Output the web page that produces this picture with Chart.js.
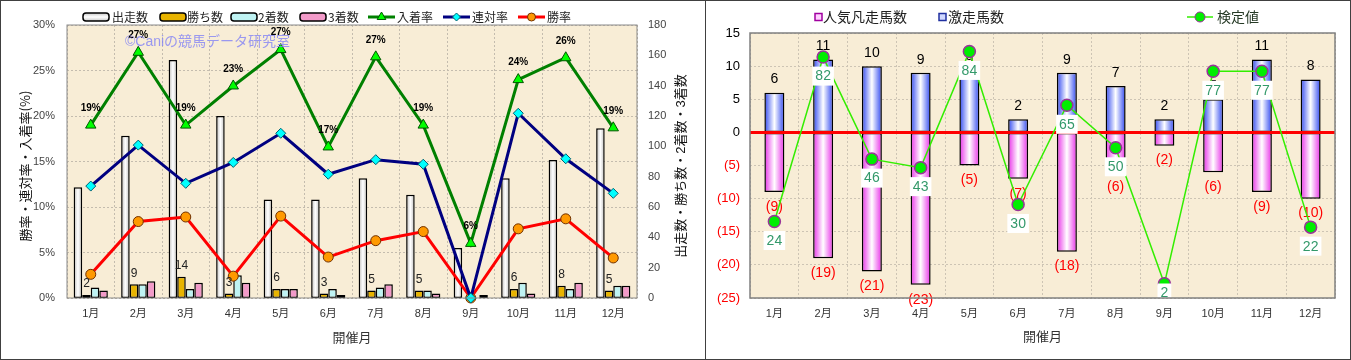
<!DOCTYPE html>
<html>
<head>
<meta charset="utf-8">
<script src="https://cdn.jsdelivr.net/npm/chart.js@4.4.1/dist/chart.umd.min.js"></script>
<style>
body { margin: 0; background: #fff; width: 1351px; height: 360px; overflow: hidden; position: relative; }
.panel { position: absolute; top: 0; height: 358px; border: 1px solid #404040; background: #fff; }
#p1 { left: 0; width: 704px; }
#p2 { left: 705px; width: 644px; }
canvas { display: block; }
</style>
</head>
<body>
<div class="panel" id="p1"><canvas id="c1" width="704" height="358"></canvas></div>
<div class="panel" id="p2"><canvas id="c2" width="644" height="358"></canvas></div>
<script>
// 共通データ
const months = ['1月', '2月', '3月', '4月', '5月', '6月', '7月', '8月', '9月', '10月', '11月', '12月'];

// 左：成績グラフ
const runs    = [73, 107, 157, 120, 65, 65, 79, 68, 33, 79, 91, 112];
const wins    = [2, 9, 14, 3, 6, 3, 5, 5, 0, 6, 8, 5];
const seconds = [7, 9, 6, 15, 6, 6, 7, 5, 0, 10, 6, 8];
const thirds  = [5, 11, 10, 10, 6, 2, 9, 3, 2, 3, 10, 8];
const placeRate  = [19.0, 27.0, 19.0, 23.3, 27.3, 16.6, 26.5, 19.0, 6.0, 24.0, 26.4, 18.7];
const rentaiRate = [12.3, 16.8, 12.6, 14.9, 18.1, 13.6, 15.2, 14.7, 0, 20.3, 15.3, 11.5];
const winRate    = [2.6, 8.4, 8.9, 2.4, 9.0, 4.5, 6.3, 7.3, 0, 7.6, 8.7, 4.4];

// 右：激走・凡走グラフ
const gekisou = [6, 11, 10, 9, 9, 2, 9, 7, 2, 5, 11, 8];
const bonsou  = [-9, -19, -21, -23, -5, -7, -18, -6, -2, -6, -9, -10];
const kentei  = [24, 82, 46, 43, 84, 30, 65, 50, 2, 77, 77, 22];

const SANS = "'Liberation Sans', 'Noto Sans CJK JP', sans-serif";
const JP = "'Noto Sans CJK JP', sans-serif";
Chart.defaults.font.family = SANS;

// 棒の横グラデーション（中央が白）
function barGrad(edge, mid, catPct, nBars, slot) {
    return (c) => {
        const ch = c.chart, xs = ch.scales && ch.scales.x;
        if (!xs || c.dataIndex === undefined || !ch.chartArea) return edge;
        const catW = xs.width / months.length;
        const bw = catW * catPct / nBars;
        const cx = xs.getPixelForValue(c.dataIndex) + (slot - (nBars - 1) / 2) * bw;
        if (!isFinite(cx) || !isFinite(bw) || bw <= 0) return edge;
        const g = ch.ctx.createLinearGradient(cx - bw / 2, 0, cx + bw / 2, 0);
        g.addColorStop(0, edge);
        g.addColorStop(0.5, mid);
        g.addColorStop(1, edge);
        return g;
    };
}

function fillArea(chart, color) {
    const { ctx, chartArea: a } = chart;
    ctx.save();
    ctx.fillStyle = color;
    ctx.fillRect(a.left, a.top, a.right - a.left, a.bottom - a.top);
    ctx.restore();
}

function frame(chart, color, w) {
    const { ctx, chartArea: a } = chart;
    ctx.save();
    ctx.strokeStyle = color;
    ctx.lineWidth = w;
    ctx.strokeRect(a.left, a.top, a.right - a.left, a.bottom - a.top);
    ctx.restore();
}

function vText(ctx, text, x, y, font, color) {
    ctx.save();
    ctx.translate(x, y);
    ctx.rotate(-Math.PI / 2);
    ctx.font = font;
    ctx.fillStyle = color;
    ctx.textAlign = 'center';
    ctx.textBaseline = 'middle';
    ctx.fillText(text, 0, 0);
    ctx.restore();
}

function legendBar(ctx, x, y, w, fill) {
    ctx.beginPath();
    ctx.roundRect(x, y - 4, w, 8, 3);
    if (fill === 'grad') {
        const g = ctx.createLinearGradient(0, y - 4, 0, y + 4);
        g.addColorStop(0, '#c8c8c8'); g.addColorStop(0.5, '#ffffff'); g.addColorStop(1, '#c8c8c8');
        ctx.fillStyle = g;
    } else {
        ctx.fillStyle = fill;
    }
    ctx.fill();
    ctx.lineWidth = 1.5;
    ctx.strokeStyle = '#000';
    ctx.stroke();
}

function legendLine(ctx, x, y, w, ds) {
    ctx.beginPath();
    ctx.moveTo(x, y); ctx.lineTo(x + w, y);
    ctx.lineWidth = ds.borderWidth;
    ctx.strokeStyle = ds.borderColor;
    ctx.stroke();
    ctx.fillStyle = ds.pointBackgroundColor;
    ctx.strokeStyle = ds.pointBorderColor;
    ctx.lineWidth = 1;
    Chart.helpers.drawPoint(ctx, { pointStyle: ds.pointStyle || 'circle', radius: ds.pointRadius - 1, rotation: 0, borderWidth: 1 }, x + w / 2, y);
}

function legendText(ctx, text, x, y, font, color) {
    ctx.font = font;
    ctx.fillStyle = color;
    ctx.textAlign = 'left';
    ctx.textBaseline = 'middle';
    ctx.fillText(text, x, y);
}

// ---------- 左グラフ ----------
const leftDeco = {
    id: 'leftDeco',
    beforeDraw(chart) { fillArea(chart, '#f8edd6'); },
    afterDatasetsDraw(chart) {
        const ctx = chart.ctx;
        ctx.save();
        ctx.textAlign = 'center';
        ctx.textBaseline = 'middle';
        // 勝ち数ラベル
        ctx.font = '12px ' + SANS;
        ctx.fillStyle = '#222';
        chart.getDatasetMeta(4).data.forEach((el, i) => {
            if (wins[i] > 0) ctx.fillText(String(wins[i]), el.x, el.y - 11);
        });
        // 入着率ラベル
        ctx.font = 'bold 10px ' + SANS;
        ctx.fillStyle = '#000';
        chart.getDatasetMeta(0).data.forEach((el, i) => {
            ctx.fillText(Math.round(placeRate[i]) + '%', el.x, el.y - 17);
        });
        ctx.restore();
    },
    afterDraw(chart) {
        const ctx = chart.ctx;
        const ds = chart.data.datasets;
        ctx.save();
        // 凡例
        const lf = '12px ' + JP, lc = '#222', ly = 16;
        legendBar(ctx, 82, ly, 26, 'grad');      legendText(ctx, '出走数', 111, ly, lf, lc);
        legendBar(ctx, 159, ly, 26, '#e8b400');  legendText(ctx, '勝ち数', 186, ly, lf, lc);
        legendBar(ctx, 230, ly, 26, '#bff3f3');  legendText(ctx, '2着数', 257, ly, lf, lc);
        legendBar(ctx, 299, ly, 26, '#f29ac9');  legendText(ctx, '3着数', 327, ly, lf, lc);
        legendLine(ctx, 367, ly, 27, ds[0]);     legendText(ctx, '入着率', 396, ly, lf, lc);
        legendLine(ctx, 442, ly, 27, ds[1]);     legendText(ctx, '連対率', 471, ly, lf, lc);
        legendLine(ctx, 517, ly, 27, ds[2]);     legendText(ctx, '勝率', 546, ly, lf, lc);
        // 透かし
        legendText(ctx, '©Caniの競馬データ研究室', 124, 41, '14px ' + SANS, 'rgba(130,130,245,0.8)');
        // 軸タイトル
        vText(ctx, '勝率・連対率・入着率(%)', 24, 165, '13px ' + JP, '#111');
        vText(ctx, '出走数・勝ち数・2着数・3着数', 680, 165, '13px ' + SANS, '#111');
        ctx.restore();
        frame(chart, '#8a8a8a', 1);
    }
};

new Chart(document.getElementById('c1'), {
    type: 'bar',
    data: {
        labels: months,
        datasets: [
            { type: 'line', label: '入着率', data: placeRate, yAxisID: 'y', order: 0, clip: false,
              borderColor: '#008000', borderWidth: 3, tension: 0,
              pointStyle: 'triangle', pointRadius: 6, pointBackgroundColor: '#00ff00', pointBorderColor: '#005500', pointBorderWidth: 1 },
            { type: 'line', label: '連対率', data: rentaiRate, yAxisID: 'y', order: 0, clip: false,
              borderColor: '#000080', borderWidth: 3, tension: 0,
              pointStyle: 'rectRot', pointRadius: 5, pointBackgroundColor: '#00ffff', pointBorderColor: '#006070', pointBorderWidth: 1 },
            { type: 'line', label: '勝率', data: winRate, yAxisID: 'y', order: 0, clip: false,
              borderColor: '#ff0000', borderWidth: 3, tension: 0,
              pointStyle: 'circle', pointRadius: 5, pointBackgroundColor: '#ff9900', pointBorderColor: '#703000', pointBorderWidth: 1 },
            { label: '出走数', data: runs, yAxisID: 'y1', order: 1,
              backgroundColor: barGrad('#bcbcbc', '#ffffff', 0.72, 4, 0), borderColor: '#000', borderWidth: 1.5, borderSkipped: false },
            { label: '勝ち数', data: wins, yAxisID: 'y1', order: 1,
              backgroundColor: '#e8b400', borderColor: '#000', borderWidth: 1.5, borderSkipped: false },
            { label: '2着数', data: seconds, yAxisID: 'y1', order: 1,
              backgroundColor: '#bff3f3', borderColor: '#000', borderWidth: 1.5, borderSkipped: false },
            { label: '3着数', data: thirds, yAxisID: 'y1', order: 1,
              backgroundColor: '#f29ac9', borderColor: '#000', borderWidth: 1.5, borderSkipped: false }
        ]
    },
    options: {
        responsive: false,
        animation: false,
        devicePixelRatio: 1,
        layout: { padding: { top: 24, left: 0, right: 0, bottom: 0 } },
        datasets: { bar: { barPercentage: 1, categoryPercentage: 0.72 } },
        plugins: { legend: { display: false }, tooltip: { enabled: false } },
        scales: {
            x: {
                afterFit: (s) => { s.height = 61; },
                grid: { color: '#c4bcae', drawTicks: false },
                border: { display: false, dash: [2, 2] },
                ticks: { font: { size: 11 }, color: '#333', padding: 9 },
                title: { display: true, text: '開催月', font: { size: 13, family: JP }, color: '#333', padding: { top: 0, bottom: 14 } }
            },
            y: {
                position: 'left',
                min: 0, max: 30,
                afterFit: (s) => { s.width = 66; },
                grid: { color: '#c4bcae', drawTicks: false },
                border: { display: false, dash: [2, 2] },
                ticks: { stepSize: 5, font: { size: 11 }, color: '#444', padding: 12, callback: (v) => v + '%' }
            },
            y1: {
                position: 'right',
                min: 0, max: 180,
                afterFit: (s) => { s.width = 68; },
                grid: { display: false, drawTicks: false },
                border: { display: false },
                ticks: { stepSize: 20, font: { size: 11 }, color: '#444', padding: 11 }
            }
        }
    },
    plugins: [leftDeco]
});

// ---------- 右グラフ ----------
const rightDeco = {
    id: 'rightDeco',
    beforeDraw(chart) { fillArea(chart, '#f8edd6'); },
    afterDatasetDraw(chart, args) {
        if (args.index !== 1) return;
        const ctx = chart.ctx, a = chart.chartArea;
        const y0 = chart.scales.y.getPixelForValue(0);
        ctx.save();
        ctx.strokeStyle = '#ff0000';
        ctx.lineWidth = 3;
        ctx.beginPath(); ctx.moveTo(a.left, y0); ctx.lineTo(a.right, y0); ctx.stroke();
        ctx.font = '14px ' + SANS;
        ctx.textAlign = 'center';
        ctx.textBaseline = 'middle';
        ctx.fillStyle = '#000';
        chart.getDatasetMeta(1).data.forEach((el, i) => {
            ctx.fillText(String(gekisou[i]), el.x, el.y - 13);
        });
        ctx.fillStyle = '#ff0000';
        chart.getDatasetMeta(2).data.forEach((el, i) => {
            ctx.fillText('(' + Math.abs(bonsou[i]) + ')', el.x, el.y + 15);
        });
        ctx.restore();
    },
    afterDatasetsDraw(chart) {
        const ctx = chart.ctx, a = chart.chartArea;
        ctx.save();
        // 検定値ラベル（グラフ枠内に収める）
        ctx.beginPath();
        ctx.rect(a.left, a.top, a.right - a.left, a.bottom - a.top);
        ctx.clip();
        ctx.font = '14px ' + SANS;
        ctx.textAlign = 'center';
        ctx.textBaseline = 'middle';
        chart.getDatasetMeta(0).data.forEach((el, i) => {
            const t = String(kentei[i]);
            const w = ctx.measureText(t).width + 6;
            const cy = Math.min(el.y + 19, a.bottom - 5);
            ctx.fillStyle = '#ffffff';
            ctx.fillRect(el.x - w / 2, cy - 9.5, w, 19);
            ctx.fillStyle = '#33996a';
            ctx.fillText(t, el.x, cy + 0.5);
        });
        ctx.restore();
    },
    afterDraw(chart) {
        const ctx = chart.ctx;
        const ds = chart.data.datasets;
        ctx.save();
        const lf = '14px ' + JP, ly = 16;
        // 人気凡走馬数
        ctx.fillStyle = '#ffd0ff'; ctx.fillRect(109, ly - 3.5, 7, 7);
        ctx.strokeStyle = '#a000a0'; ctx.lineWidth = 1.5; ctx.strokeRect(109, ly - 3.5, 7, 7);
        legendText(ctx, '人気凡走馬数', 117, ly, lf, '#222');
        // 激走馬数
        ctx.fillStyle = '#d0d8ff'; ctx.fillRect(233, ly - 3.5, 7, 7);
        ctx.strokeStyle = '#2030a0'; ctx.lineWidth = 1.5; ctx.strokeRect(233, ly - 3.5, 7, 7);
        legendText(ctx, '激走馬数', 242, ly, lf, '#222');
        // 検定値
        legendLine(ctx, 481, ly, 26, ds[0]);
        legendText(ctx, '検定値', 511, ly, lf, '#263a26');
        ctx.restore();
        frame(chart, '#808080', 1.5);
    }
};

new Chart(document.getElementById('c2'), {
    type: 'bar',
    data: {
        labels: months,
        datasets: [
            { type: 'line', label: '検定値', data: kentei, yAxisID: 'y2', order: 0, clip: false,
              borderColor: '#33ee00', borderWidth: 1.5, tension: 0,
              pointStyle: 'circle', pointRadius: 6, pointBackgroundColor: '#00ee00', pointBorderColor: '#993399', pointBorderWidth: 1.5 },
            { label: '激走馬数', data: gekisou, yAxisID: 'y', order: 1, grouped: false,
              backgroundColor: barGrad('#3048f0', '#ffffff', 0.41, 1, 0), borderColor: '#000', borderWidth: 1.5, borderSkipped: false },
            { label: '人気凡走馬数', data: bonsou, yAxisID: 'y', order: 1, grouped: false,
              backgroundColor: barGrad('#e830e8', '#ffffff', 0.41, 1, 0), borderColor: '#000', borderWidth: 1.5, borderSkipped: false }
        ]
    },
    options: {
        responsive: false,
        animation: false,
        devicePixelRatio: 1,
        layout: { padding: { top: 32, left: 0, right: 15, bottom: 0 } },
        datasets: { bar: { barPercentage: 0.41, categoryPercentage: 1 } },
        plugins: { legend: { display: false }, tooltip: { enabled: false } },
        scales: {
            x: {
                afterFit: (s) => { s.height = 61; },
                grid: { color: '#cdc4b4', drawTicks: false },
                border: { display: false, dash: [2, 2] },
                ticks: { font: { size: 11 }, color: '#333', padding: 9 },
                title: { display: true, text: '開催月', font: { size: 13, family: JP }, color: '#333', padding: { top: 0, bottom: 15 } }
            },
            y: {
                min: -25, max: 15,
                afterFit: (s) => { s.width = 44; },
                grid: { color: '#cdc4b4', drawTicks: false },
                border: { display: false, dash: [2, 2] },
                ticks: {
                    stepSize: 5, font: { size: 13 }, padding: 10,
                    color: (c) => (c.tick && c.tick.value < 0 ? '#ff0000' : '#000'),
                    callback: (v) => (v < 0 ? '(' + (-v) + ')' : String(v))
                }
            },
            y2: { display: false, min: -3, max: 90.5 }
        }
    },
    plugins: [rightDeco]
});
</script>
</body>
</html>
